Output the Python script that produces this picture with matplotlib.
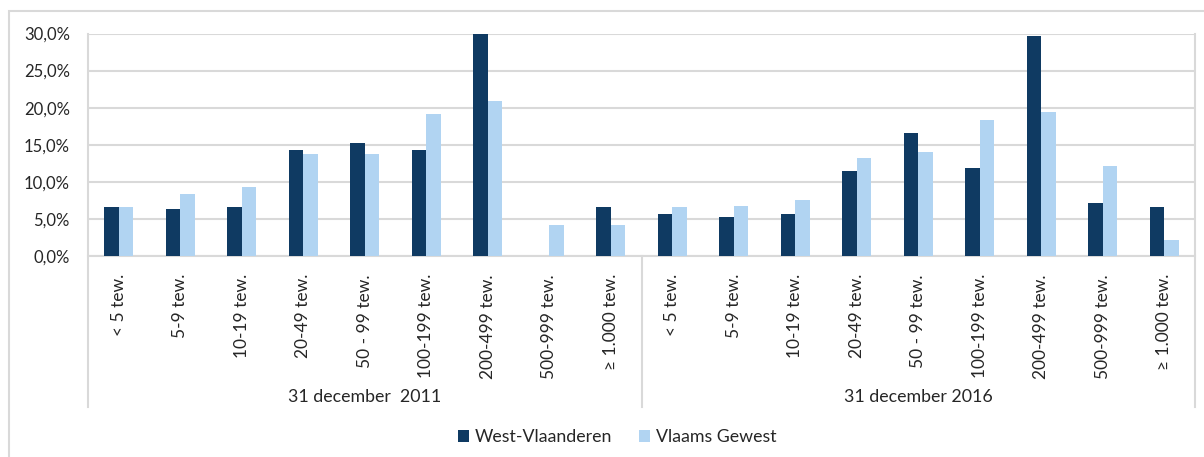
import matplotlib.pyplot as plt
import numpy as np
from matplotlib.lines import Line2D
from matplotlib.patches import Rectangle

plt.rcParams['font.family'] = ['Lato', 'DejaVu Sans']

# categorieen (zelfde klassen voor beide jaren)
klassen = ['< 5 tew.', '5-9 tew.', '10-19 tew.', '20-49 tew.', '50 - 99 tew.',
           '100-199 tew.', '200-499 tew.', '500-999 tew.', '\u2265 1.000 tew.']
groepen = ['31 december  2011', '31 december 2016']

# aandelen in %
west_vl_2011 = [6.6, 6.3, 6.6, 14.3, 15.3, 14.3, 29.9, 0.0, 6.6]
vl_gewest_2011 = [6.6, 8.3, 9.3, 13.8, 13.8, 19.1, 20.9, 4.2, 4.2]
west_vl_2016 = [5.7, 5.3, 5.7, 11.5, 16.6, 11.9, 29.6, 7.2, 6.6]
vl_gewest_2016 = [6.6, 6.7, 7.6, 13.2, 14.0, 18.3, 19.4, 12.1, 2.1]

donker = '#0f3a62'
licht = '#b1d4f2'
grijs = '#d9d9d9'
tekst = '#262626'

W, H = 1204, 457
fig = plt.figure(figsize=(W / 100, H / 100), dpi=100)

# rand rond de grafiek
fig.patches.append(Rectangle((9 / W, -0.1), 1.1, 1 - 11 / H + 0.1, transform=fig.transFigure,
                             fill=False, edgecolor=grijs, lw=1.5))

x0, x1 = 88, 1195
y0, y1 = 256, 33.5
ax = fig.add_axes([x0 / W, 1 - y0 / H, (x1 - x0) / W, (y0 - y1) / H])

west = west_vl_2011 + west_vl_2016
vlaams = vl_gewest_2011 + vl_gewest_2016
labels = klassen + klassen
x = np.arange(len(labels))
bw = 0.235

ax.bar(x - bw / 2, west, bw, color=donker, label='West-Vlaanderen', zorder=3)
ax.bar(x + bw / 2, vlaams, bw, color=licht, label='Vlaams Gewest', zorder=3)

ax.set_xlim(-0.5, len(labels) - 0.5)
ax.set_ylim(0, 30)
ax.set_yticks(np.arange(0, 31, 5))
ax.set_yticklabels([f'{v:.1f}%'.replace('.', ',') for v in np.arange(0, 31, 5)])
ax.yaxis.grid(True, color=grijs, lw=1.5, zorder=0)
ax.set_xticks(x)
ax.set_xticklabels(labels, rotation=90, va='top', ha='center')
ax.tick_params(axis='both', length=0, colors=tekst)
ax.tick_params(axis='y', pad=13, labelsize=12)
ax.tick_params(axis='x', pad=13, labelsize=12.5)
for s in ['top', 'right', 'left']:
    ax.spines[s].set_visible(False)
ax.spines['bottom'].set_color(grijs)
ax.spines['bottom'].set_linewidth(1.5)

# scheidingslijnen tussen de groepen
midden = (x0 + x1) / 2
for px, ytop in [(x0, y1), (midden, y0), (x1, y1)]:
    fig.add_artist(Line2D([px / W, px / W], [1 - 407 / H, 1 - ytop / H],
                          transform=fig.transFigure, color=grijs, lw=1.5))

for i, g in enumerate(groepen):
    cx = (x0 + (x1 - x0) * (0.25 + 0.5 * i)) / W
    fig.text(cx, 1 - 397 / H, g, ha='center', va='center', fontsize=12.8, color=tekst)

fig.legend(loc='center', bbox_to_anchor=(617 / W, 1 - 437 / H), ncol=2, frameon=False,
           fontsize=12.8, handlelength=0.65, handleheight=0.65, handletextpad=0.3,
           columnspacing=1.5, labelcolor=tekst)

fig.savefig('out.png', dpi=100)
